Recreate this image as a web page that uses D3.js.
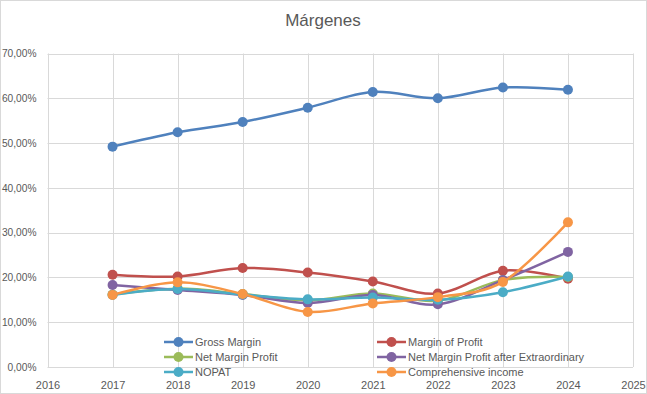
<!DOCTYPE html>
<html>
<head>
<meta charset="utf-8">
<script src="https://cdn.jsdelivr.net/npm/d3@7"></script>
<style>
  body { margin: 0; background: #fff; }
  text { font-family: "Liberation Sans", Arial, sans-serif; fill: #595959; }
</style>
</head>
<body>
<div id="chart"></div>
<script>
let years = [2017, 2018, 2019, 2020, 2021, 2022, 2023, 2024];
let xTicks = [2016, 2017, 2018, 2019, 2020, 2021, 2022, 2023, 2024, 2025];
let yTicks = [0, 0.1, 0.2, 0.3, 0.4, 0.5, 0.6, 0.7];

let seriesNames = ["Gross Margin", "Margin of Profit", "Net Margin Profit",
  "Net Margin Profit after Extraordinary", "NOPAT", "Comprehensive income"];
let seriesColors = ["#4F81BD", "#C0504D", "#9BBB59", "#8064A2", "#4BACC6", "#F79646"];

let grossMargin    = [0.492, 0.524, 0.547, 0.579, 0.614, 0.600, 0.624, 0.619];
let marginProfit   = [0.206, 0.202, 0.221, 0.211, 0.191, 0.164, 0.215, 0.197];
let netMargin      = [0.162, 0.175, 0.163, 0.149, 0.164, 0.148, 0.194, 0.201];
let netMarginExtra = [0.183, 0.172, 0.161, 0.143, 0.161, 0.140, 0.194, 0.257];
let nopat          = [0.161, 0.174, 0.162, 0.151, 0.155, 0.150, 0.167, 0.202];
let comprehensive  = [0.161, 0.189, 0.163, 0.123, 0.142, 0.156, 0.190, 0.323];
let allSeries = [grossMargin, marginProfit, netMargin, netMarginExtra, nopat, comprehensive];

let width = 647, height = 394;
let plotLeft = 47.5, plotRight = 633, plotTop = 53.5, plotBottom = 367;

let svg = d3.select("#chart").append("svg")
  .attr("width", width)
  .attr("height", height);

svg.append("rect")
  .attr("x", 0.5).attr("y", 0.5)
  .attr("width", width - 1).attr("height", height - 1)
  .style("fill", "#fff")
  .style("stroke", "#D9D9D9");

let x = d3.scaleLinear().domain([2016, 2025]).range([plotLeft, plotRight]);
let y = d3.scaleLinear().domain([0, 0.7]).range([plotBottom, plotTop]);

// gridlines
svg.append("g").selectAll("line").data(yTicks.slice(1)).join("line")
  .attr("x1", plotLeft).attr("x2", plotRight)
  .attr("y1", d => Math.round(y(d)) + 0.5).attr("y2", d => Math.round(y(d)) + 0.5)
  .style("stroke", "#D9D9D9");
svg.append("g").selectAll("line").data(xTicks).join("line")
  .attr("x1", d => Math.round(x(d)) + 0.5).attr("x2", d => Math.round(x(d)) + 0.5)
  .attr("y1", plotTop).attr("y2", plotBottom)
  .style("stroke", "#D9D9D9");

// axes
let yAxis = svg.append("g")
  .attr("transform", `translate(${plotLeft - 8},0)`)
  .call(d3.axisLeft(y).tickValues(yTicks).tickSize(0)
    .tickFormat(d => d3.format(".2f")(d * 100).replace(".", ",") + "%"));
yAxis.select(".domain").remove();
yAxis.selectAll("text").style("font-size", "10.2px").style("fill", "#595959");

let xAxis = svg.append("g")
  .attr("transform", `translate(0,${Math.round(plotBottom) + 0.5})`)
  .call(d3.axisBottom(x).tickValues(xTicks).tickSize(0).tickFormat(d3.format("d")).tickPadding(14));
xAxis.select(".domain").style("stroke", "#D9D9D9").attr("d", `M${plotLeft},0H${plotRight}`);
xAxis.selectAll("text").style("font-size", "11px").style("fill", "#595959");

// title
svg.append("text")
  .text("Márgenes")
  .attr("x", 323).attr("y", 26)
  .attr("text-anchor", "middle")
  .style("font-size", "17px")
  .style("fill", "#595959");

// series
let line = d3.line()
  .x((d, i) => x(years[i]))
  .y(d => y(d))
  .curve(d3.curveCatmullRom.alpha(0));

allSeries.forEach((values, index) => {
  let g = svg.append("g");
  g.append("path")
    .attr("d", line(values))
    .style("fill", "none")
    .style("stroke", seriesColors[index])
    .style("stroke-width", 2.5)
    .style("stroke-linecap", "round");
  g.selectAll("circle").data(values).join("circle")
    .attr("cx", (d, i) => x(years[i]))
    .attr("cy", d => y(d))
    .attr("r", 5)
    .style("fill", seriesColors[index]);
});

// legend
let legendCols = [164, 377];
let legendRows = [342, 357, 372];
let legend = svg.append("g").attr("id", "legend");
seriesNames.forEach((name, index) => {
  let lx = legendCols[index % 2];
  let ly = legendRows[Math.floor(index / 2)];
  legend.append("line")
    .attr("x1", lx).attr("x2", lx + 29)
    .attr("y1", ly).attr("y2", ly)
    .style("stroke", seriesColors[index])
    .style("stroke-width", 2.5);
  legend.append("circle")
    .attr("cx", lx + 14.5).attr("cy", ly).attr("r", 5)
    .style("fill", seriesColors[index]);
  legend.append("text")
    .text(name)
    .attr("x", lx + 31).attr("y", ly + 4)
    .style("font-size", "11px")
    .style("fill", "#595959");
});
</script>
</body>
</html>
